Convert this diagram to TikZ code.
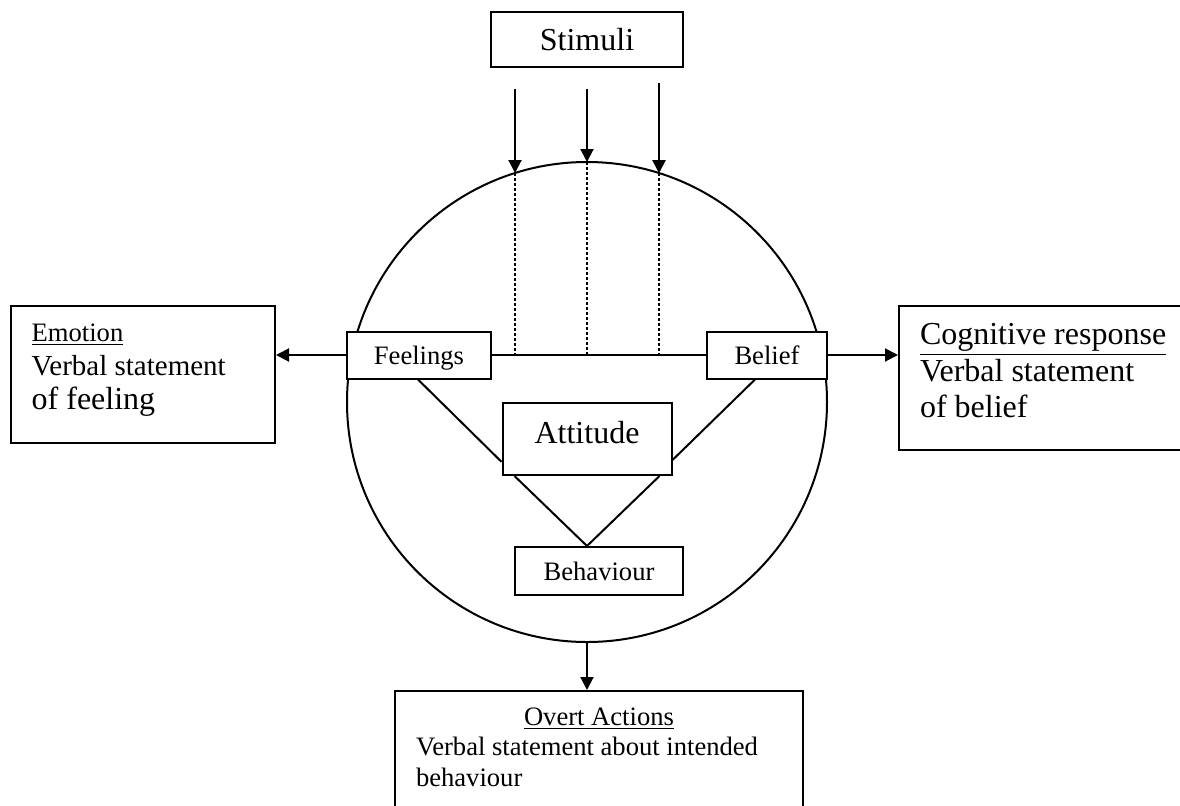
\documentclass[tikz,border=0pt]{standalone}
\usepackage{fontspec}
\setmainfont{Liberation Serif}
\usetikzlibrary{arrows.meta}

\newcommand{\fsz}[2]{\fontsize{#1}{#2}\selectfont}

\begin{document}
\begin{tikzpicture}[
  x=0.5pt, y=-0.5pt,
  line width=1pt,
  box/.style={rectangle, draw, fill=white, inner sep=0pt},
  small/.style={box, font=\fsz{13.3pt}{16pt}, text depth=0pt},
  big/.style={box, font=\fsz{16pt}{19pt}},
  side/.style={box, align=flush left},
  arrow/.style={-{Triangle[length=6.5pt, width=6.5pt]}},
  dots/.style={dash pattern=on 1.5pt off 1pt},
]
  \useasboundingbox (0,0) rectangle (1180,805);

  \node[draw, circle, minimum size=240pt, inner sep=0pt] (mind) at (587,402) {};

  \node[big, minimum width=96pt, minimum height=27.5pt] (stim) at (587,39.5) {Stimuli};
  \node[small, minimum width=72pt, minimum height=23.5pt] (feel) at (419,355) {Feelings};
  \node[small, minimum width=60pt, minimum height=23.5pt] (belief) at (767,355) {Belief};
  \node[big, minimum width=84.5pt, minimum height=36pt, text depth=7pt] (att) at (587,439) {Attitude};
  \node[small, minimum width=84pt, minimum height=24pt] (beh) at (599,571) {Behaviour};

  \node[side, font=\fsz{13.3pt}{17pt}, text width=111.3pt,
        minimum width=132pt, minimum height=68.5pt] (emo) at (143,374.5)
    {\underline{Emotion}\\ \fsz{14.5pt}{17pt}Verbal statement\\
     \fsz{16pt}{17pt}of feeling\rule[-7.8pt]{0pt}{0pt}};
  \node[side, font=\fsz{16pt}{18.25pt}, text width=129.5pt,
        minimum width=150.5pt, minimum height=72pt] (cog) at (1049.5,378)
    {\underline{Cognitive response}\\ Verbal statement\\ of belief\rule[-7.4pt]{0pt}{0pt}};
  \node[side, font=\fsz{13.3pt}{15.25pt}, text width=183pt,
        minimum width=204pt, minimum height=69.5pt] (overt) at (599,760.5)
    {\makebox[\linewidth]{\underline{Overt Actions}}\\ Verbal statement about intended\\
     behaviour\rule[-13.4pt]{0pt}{0pt}};

  % stimuli entering the circle
  \foreach \i/\xx/\ys/\ye in {1/515/89/173, 2/587/89/162, 3/659/83/173.2} {
    \coordinate (in\i) at (\xx,\ys);
    \coordinate (hit\i) at (\xx,\ye);
    \draw[arrow] (in\i) -- (hit\i);
    \draw[dots] (hit\i) -- (hit\i |- feel.east);
  }

  \draw (feel.east) -- (belief.west);
  \draw[arrow] (feel.west) -- (feel.west -| emo.east);
  \draw[arrow] (belief.east) -- (belief.east -| cog.west);
  \draw[arrow] (mind.south) -- (mind.south |- overt.north);

  \draw ([xshift=-0.5pt]feel.south) -- ([yshift=-11.4pt]att.west);
  \draw ([xshift=-6pt]belief.south) -- ([yshift=-10.5pt]att.east);
  \draw ([xshift=6.5pt]att.south west) -- ([xshift=-6pt]beh.north);
  \draw ([xshift=-6.5pt]att.south east) -- ([xshift=-6pt]beh.north);
\end{tikzpicture}
\end{document}
